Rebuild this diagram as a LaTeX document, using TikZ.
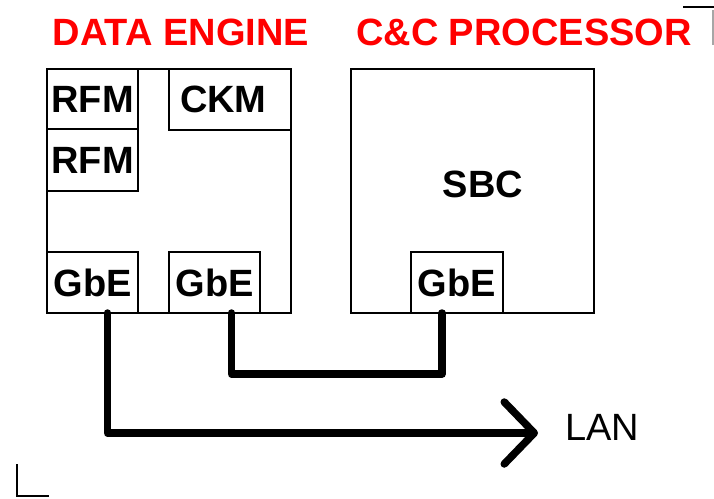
\documentclass[tikz,border=0pt]{standalone}
\usepackage{fontspec}
\setmainfont{Liberation Sans}
\usetikzlibrary{positioning,arrows.meta}
\definecolor{hot}{RGB}{255,0,0}

\begin{document}
\begin{tikzpicture}[x=1pt,y=-1pt,
  box/.style={draw=black,line width=2.6pt,inner sep=0pt,outer sep=0pt,
     font=\bfseries\fontsize{38}{40}\selectfont},
  head/.style={text=hot,inner sep=0pt,anchor=base,
     font=\bfseries\fontsize{38}{40}\selectfont},
  link/.style={draw=black,line width=7.5pt,line cap=round,line join=round}]
\useasboundingbox (0,0) rectangle (714,498);
\node[head] (deT) at (181,45) {DATA ENGINE};
\node[head] (ccT) at (524,45) {C\&C PROCESSOR};
\node[box,minimum width=244pt,minimum height=244pt] (de) at (169,191) {};
\node[box,minimum width=91pt,minimum height=60pt,anchor=north west] (rfmA) at (de.north west) {RFM};
\node[box,minimum width=91pt,minimum height=62pt,anchor=north west] (rfmB) at (rfmA.south west) {RFM};
\node[box,minimum height=61pt,anchor=north east,inner xsep=11pt,text width=100pt,align=left] (ckm) at (de.north east) {CKM};
\node[box,minimum width=91pt,minimum height=61pt,anchor=south west] (gbeA) at (de.south west) {GbE};
\node[box,minimum width=91pt,minimum height=61pt,anchor=south west] (gbeB) at (169,313) {GbE};
\node[box,minimum width=243pt,minimum height=244pt] (cc) at (472.5,191) {};
\node[font=\bfseries\fontsize{38}{40}\selectfont,inner sep=0pt] (sbc) at (483,184) {SBC};
\node[box,minimum width=92pt,minimum height=61pt,anchor=south west] (gbeC) at (411,313) {GbE};
\node[anchor=base west,inner sep=0pt,font=\fontsize{38}{40}\selectfont] (lan) at (565,440) {LAN};
\coordinate (lanend) at (538,433);
% links
\draw[link,-{Straight Barb[length=30pt,width=62pt,round]}] ([xshift=15pt]gbeA.south) |- (lanend);
\draw[link] ([xshift=17pt]gbeB.south) -- ++(0,61) -| ([xshift=-15pt]gbeC.south);
% crop marks
\draw[line width=2pt] (683,7) -- (714,7);
\draw[line width=1.5pt,black!35] (713,10) -- (713,45);
\draw[line width=2.5pt] (17,464) -- (17,496) -- (49,496);
\end{tikzpicture}
\end{document}
